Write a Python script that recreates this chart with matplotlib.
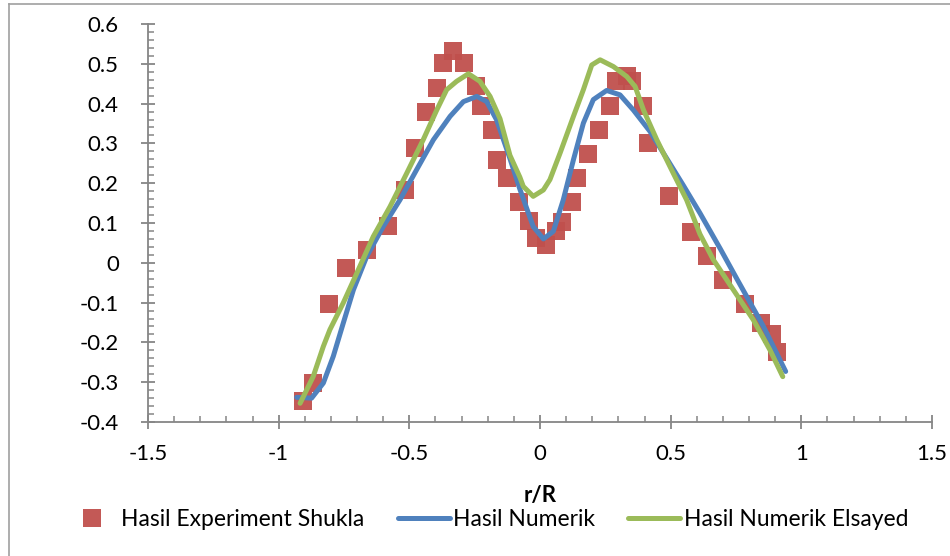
import numpy as np
import matplotlib
matplotlib.use("Agg")
import matplotlib.pyplot as plt
from matplotlib.lines import Line2D
from matplotlib.ticker import MultipleLocator

plt.rcParams["font.family"] = ["Lato", "DejaVu Sans"]

# experiment (Shukla)
exp_x = [-0.908, -0.868, -0.806, -0.742, -0.663, -0.580, -0.517, -0.478, -0.437, -0.393,
         -0.370, -0.332, -0.290, -0.246, -0.226, -0.185, -0.163, -0.125, -0.080, -0.041,
         -0.016, 0.023, 0.061, 0.083, 0.121, 0.140, 0.183, 0.226, 0.268, 0.291,
         0.332, 0.351, 0.393, 0.415, 0.495, 0.578, 0.638, 0.700, 0.785, 0.845,
         0.887, 0.908]
exp_y = [-0.346, -0.301, -0.104, -0.013, 0.031, 0.093, 0.183, 0.288, 0.380, 0.439,
         0.502, 0.531, 0.502, 0.443, 0.393, 0.334, 0.259, 0.213, 0.153, 0.106,
         0.062, 0.045, 0.079, 0.102, 0.153, 0.213, 0.274, 0.334, 0.394, 0.456,
         0.470, 0.456, 0.394, 0.302, 0.168, 0.077, 0.016, -0.044, -0.104, -0.150,
         -0.178, -0.225]

# numerik
num_x = [-0.931, -0.874, -0.829, -0.791, -0.753, -0.714, -0.663, -0.600, -0.536, -0.472,
         -0.408, -0.344, -0.293, -0.242, -0.204, -0.166, -0.115, -0.077, -0.026, 0.013,
         0.051, 0.089, 0.128, 0.166, 0.204, 0.255, 0.306, 0.357, 0.421, 0.485,
         0.548, 0.612, 0.690, 0.753, 0.855, 0.940]
num_y = [-0.338, -0.340, -0.302, -0.235, -0.152, -0.068, 0.016, 0.091, 0.158, 0.234,
         0.309, 0.368, 0.405, 0.418, 0.405, 0.359, 0.262, 0.185, 0.091, 0.060,
         0.079, 0.158, 0.259, 0.351, 0.410, 0.433, 0.422, 0.384, 0.330, 0.262,
         0.195, 0.125, 0.035, -0.040, -0.160, -0.273]

# numerik Elsayed
els_x = [-0.918, -0.868, -0.829, -0.804, -0.753, -0.701, -0.638, -0.574, -0.510, -0.447,
         -0.395, -0.357, -0.319, -0.274, -0.230, -0.191, -0.153, -0.115, -0.077, -0.064,
         -0.026, 0.013, 0.038, 0.077, 0.128, 0.166, 0.198, 0.230, 0.281, 0.332,
         0.364, 0.396, 0.447, 0.510, 0.561, 0.612, 0.663, 0.740, 0.816, 0.880,
         0.929]
els_y = [-0.353, -0.286, -0.210, -0.168, -0.101, -0.026, 0.066, 0.141, 0.225, 0.309,
         0.384, 0.435, 0.456, 0.475, 0.456, 0.418, 0.362, 0.270, 0.215, 0.192,
         0.167, 0.183, 0.209, 0.276, 0.368, 0.435, 0.497, 0.510, 0.493, 0.468,
         0.443, 0.384, 0.309, 0.225, 0.158, 0.072, 0.008, -0.068, -0.143, -0.219,
         -0.286]

fig = plt.figure(figsize=(9.5, 5.56), dpi=100)
ax = fig.add_axes([148 / 950, 1 - 422 / 556, 784 / 950, 398 / 556])

ax.plot(exp_x, exp_y, "s", color="#C0504D", markersize=13.5, alpha=0.95,
        markeredgewidth=0, label="Hasil Experiment Shukla", zorder=2)
ax.plot(num_x, num_y, color="#4F81BD", lw=3.6, label="Hasil Numerik", zorder=3,
        solid_capstyle="round", solid_joinstyle="round")
ax.plot(els_x, els_y, color="#9BBB59", lw=3.6, label="Hasil Numerik Elsayed", zorder=4,
        solid_capstyle="round", solid_joinstyle="round")

ax.set_xlim(-1.5, 1.5)
ax.set_ylim(-0.4, 0.6)
ax.xaxis.set_major_locator(MultipleLocator(0.5))
ax.xaxis.set_minor_locator(MultipleLocator(0.1))
ax.yaxis.set_major_locator(MultipleLocator(0.1))
ax.yaxis.set_minor_locator(MultipleLocator(0.02))
ax.xaxis.set_major_formatter(plt.FuncFormatter(lambda v, p: f"{v:g}"))
ax.yaxis.set_major_formatter(plt.FuncFormatter(lambda v, p: f"{v:g}"))

for side in ["top", "right"]:
    ax.spines[side].set_visible(False)
for side in ["left", "bottom"]:
    ax.spines[side].set_color("#868686")
    ax.spines[side].set_linewidth(1.3)

ax.tick_params(which="major", direction="inout", length=10, width=1.3, color="#868686",
               labelsize=16, labelcolor="black")
ax.tick_params(which="minor", direction="in", length=4, width=1.1, color="#868686")
ax.tick_params(axis="y", which="major", pad=16)
ax.tick_params(axis="x", which="major", pad=11)

ax.set_xlabel("r/R", fontsize=16, fontweight="bold", labelpad=15)

fig.legend(loc="center", bbox_to_anchor=(487 / 950, 1 - 520 / 556), ncol=3,
           frameon=False, fontsize=16.5, handlelength=2.27, handletextpad=0.15,
           columnspacing=1.44, borderaxespad=0, borderpad=0)

fig.add_artist(Line2D([9 / 950, 1], [1 - 4 / 556, 1 - 4 / 556], color="#A0A0A0", lw=1.2,
                      transform=fig.transFigure))
fig.add_artist(Line2D([9 / 950, 9 / 950], [0, 1 - 4 / 556], color="#A0A0A0", lw=1.2,
                      transform=fig.transFigure))

fig.savefig("out.png", dpi=100)
